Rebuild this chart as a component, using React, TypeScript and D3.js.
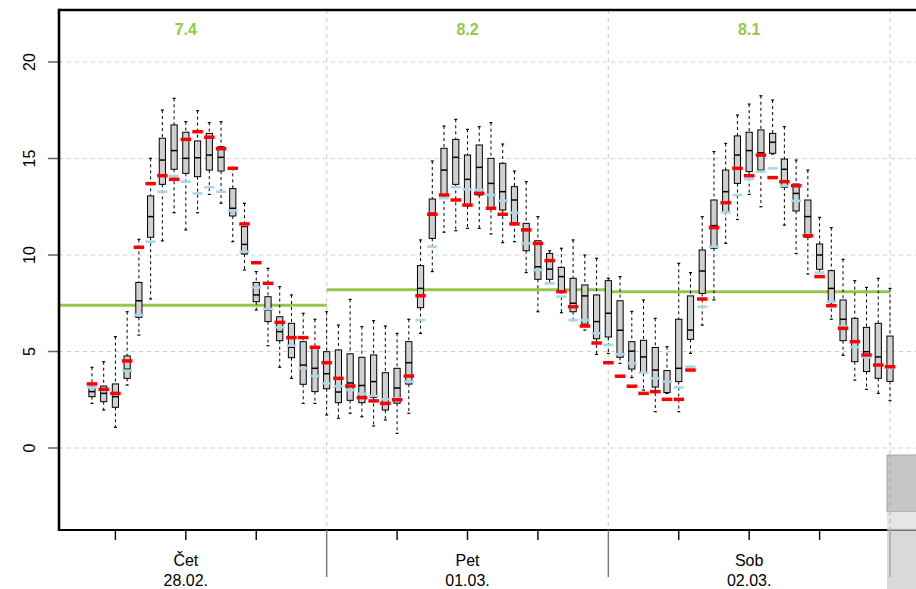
import React from 'react';
import * as d3 from 'd3';

const W = 916;
const H = 589;

// hour offsets from Thursday 28.02. 00:00 (one box per hour)
const hourOffsets = d3.range(4, 73);

const whiskerHigh = [4.18, 4.47, 5.77, 7.06, 10.81, 15.01, 17.51, 18.12, 16.91, 17.48, 16.86, 16.91, 14.54, 12.68, 9.14, 9.31, 8.36, 7.93, 6.98, 6.67,
  7.06, 6.37, 7.70, 6.29, 6.60, 6.32, 5.94, 6.67, 10.78, 14.87, 16.68, 17.03, 16.51, 16.65, 16.86, 15.75, 14.35, 13.80, 11.99, 10.22, 10.35, 10.78, 10.0, 9.83,
  8.79, 8.88, 7.08, 7.67, 6.72, 5.25, 9.57, 9.09, 11.99, 15.36, 15.78, 17.25, 17.82, 18.25, 18.03, 16.65, 14.92, 14.40, 11.95, 11.42, 9.78, 8.67, 8.32, 8.79,
  8.27];
const q3 = [3.18, 3.21, 3.32, 4.77, 8.58, 13.06, 16.05, 16.74, 16.36, 15.91, 16.30, 15.61, 13.44, 11.47, 8.58, 7.84, 6.80, 6.46, 5.51, 5.20,
  4.99, 5.08, 4.88, 4.70, 4.82, 3.90, 4.13, 5.51, 9.45, 12.90, 15.53, 15.99, 15.18, 15.70, 15.01, 14.75, 13.54, 11.64, 10.74, 10.08, 9.36, 8.79, 8.45, 7.93,
  8.67, 7.63, 5.51, 5.58, 5.21, 4.01, 6.67, 7.88, 10.26, 12.85, 14.40, 16.17, 16.36, 16.48, 16.30, 14.97, 13.68, 12.85, 10.57, 9.19, 7.67, 6.72, 6.25, 6.46,
  5.80];
const median = [2.92, 2.83, 2.66, 4.08, 7.63, 11.99, 14.92, 15.41, 15.01, 15.04, 15.18, 15.06, 12.42, 10.55, 7.93, 7.15, 6.03, 5.22, 4.30, 4.13,
  3.85, 2.90, 3.37, 3.24, 3.44, 2.55, 3.11, 4.42, 8.27, 12.16, 14.40, 15.06, 13.92, 14.54, 13.71, 13.28, 12.85, 11.30, 9.39, 9.27, 8.88, 7.50, 7.88, 6.55,
  6.98, 6.10, 5.02, 4.72, 4.04, 3.44, 4.13, 6.11, 9.17, 11.52, 13.28, 15.18, 15.41, 15.30, 15.84, 14.44, 13.19, 11.99, 10.0, 8.27, 6.67, 5.55, 4.99, 4.72,
  4.21];
const q1 = [2.66, 2.40, 2.11, 3.61, 6.77, 10.92, 13.66, 14.44, 14.23, 14.06, 14.40, 14.35, 12.02, 10.05, 7.58, 6.55, 5.56, 4.68, 3.30, 2.92,
  3.07, 2.35, 2.47, 2.35, 2.62, 1.97, 2.32, 3.31, 7.27, 10.86, 13.11, 13.66, 12.54, 13.11, 12.36, 12.33, 11.67, 10.22, 8.74, 8.74, 8.13, 7.06, 6.42, 5.66,
  5.75, 4.70, 4.09, 3.87, 3.16, 2.87, 3.44, 5.63, 8.01, 10.35, 12.25, 13.71, 14.32, 14.40, 15.27, 13.51, 12.28, 10.92, 9.26, 7.53, 5.56, 4.47, 3.96, 3.61,
  3.45];
const whiskerLow = [2.31, 1.97, 1.07, 3.26, 5.85, 7.72, 10.73, 12.19, 11.30, 12.19, 13.14, 12.68, 10.69, 9.22, 7.15, 5.30, 4.18, 3.61, 2.31, 2.31,
  1.71, 1.54, 1.80, 1.62, 1.14, 1.45, 0.76, 1.80, 5.94, 9.14, 11.18, 11.26, 11.38, 11.38, 11.09, 10.64, 10.69, 9.09, 7.06, 8.57, 7.01, 6.60, 6.11, 4.85,
  4.90, 4.39, 3.65, 3.00, 1.88, 2.83, 1.88, 4.90, 6.37, 7.67, 10.60, 11.84, 13.14, 12.50, 15.23, 11.55, 10.08, 9.02, 8.88, 6.67, 4.80, 3.52, 3.04, 2.83,
  2.45];
const redValues = [3.32, 3.04, 2.83, 4.51, 10.40, 13.70, 14.11, 13.92, 15.99, 16.39, 16.10, 15.51, 14.49, 11.61, 9.60, 8.53, 6.51, 5.72, 5.72, 5.22,
  4.42, 3.61, 3.21, 2.61, 2.44, 2.31, 2.50, 3.73, 7.89, 12.11, 13.11, 12.85, 12.59, 13.19, 12.42, 12.11, 11.61, 11.30, 10.60, 9.71, 8.10, 7.32, 6.32, 5.44,
  4.42, 3.72, 3.20, 2.83, 2.92, 2.52, 2.52, 4.04, 7.72, 11.42, 12.71, 14.49, 14.11, 15.18, 14.01, 13.80, 13.59, 11.00, 8.88, 7.37, 6.20, 5.51, 4.82, 4.30,
  4.21];
const blueValues = [3.14, 3.00, 2.80, 4.01, 6.89, 10.69, 13.28, 14.09, 13.80, 13.19, 13.51, 13.28, 12.30, 10.17, 8.32, 7.20, 6.25, 5.30, 4.13, 3.73,
  3.35, 3.20, 3.00, 2.81, 2.70, 2.53, 2.57, 3.44, 6.63, 10.43, 12.94, 13.51, 13.40, 13.37, 13.11, 12.81, 12.19, 10.60, 9.22, 8.53, 7.84, 6.63, 6.63, 5.94,
  5.34, 4.86, 4.39, 3.90, 3.61, 3.44, 3.14, 4.21, 7.32, 10.43, 12.21, 13.11, 13.94, 14.32, 14.49, 13.58, 12.81, 11.04, 9.09, 7.58, 6.30, 5.23, 4.70, 4.30,
  4.15];

const dayNames = ['Čet', 'Pet', 'Sob'];
const dayDates = ['28.02.', '01.03.', '02.03.'];
const dayMeans = [7.4, 8.2, 8.1];
const yTicks = [0, 5, 10, 15, 20];
const xTickHours = [6, 12, 18, 24, 30, 36, 42, 48, 54, 60, 66, 72];

const FONT = '"Liberation Sans", Arial, Helvetica, sans-serif';
const GREEN = '#93c84c';

export default function App() {
  const plotLeft = 59;
  const plotTop = 10;
  const plotBottom = 530;
  const plotRight = W + 5;

  const x = d3.scaleLinear().domain([0, 72]).range([45, 890]);
  const y = d3.scaleLinear().domain([0, 20]).range([448, 62]);

  const boxW = 6.2;
  const capW = 3;
  const redW = 10.5;
  const blueW = 10;

  return (
    <svg width={W} height={H} style={{ position: 'absolute', left: 0, top: 0, display: 'block', background: '#fff' }}
      fontFamily={FONT}>
      <defs>
        <clipPath id="plotClip">
          <rect x={plotLeft} y={plotTop} width={plotRight - plotLeft} height={plotBottom - plotTop} />
        </clipPath>
      </defs>

      {/* horizontal grid */}
      {yTicks.map(t => (
        <line key={'hg' + t} x1={plotLeft} x2={plotRight} y1={y(t)} y2={y(t)}
          stroke="#cfcfcf" strokeWidth={1.2} strokeDasharray="4,4" />
      ))}
      {/* vertical grid at day boundaries */}
      {[24, 48, 72].map(h => (
        <line key={'vg' + h} x1={x(h)} x2={x(h)} y1={plotTop} y2={plotBottom}
          stroke="#cfcfcf" strokeWidth={1.2} strokeDasharray="4,4" />
      ))}

      {/* day mean lines */}
      <g clipPath="url(#plotClip)">
        {dayMeans.map((m, i) => (
          <line key={'dm' + i} x1={Math.max(plotLeft, x(i * 24))} x2={x((i + 1) * 24)}
            y1={y(m)} y2={y(m)} stroke={GREEN} strokeWidth={3} />
        ))}
      </g>
      {dayMeans.map((m, i) => (
        <text key={'dml' + i} x={x(i * 24 + 12)} y={35} textAnchor="middle" fontSize={16}
          fontWeight="bold" fill={GREEN}>{m.toFixed(1)}</text>
      ))}

      {/* boxplots */}
      <g clipPath="url(#plotClip)">
        {hourOffsets.map((h, i) => {
          const cx = x(h);
          return (
            <g key={'b' + i}>
              <line x1={cx} x2={cx} y1={y(whiskerHigh[i])} y2={y(q3[i])} stroke="#000" strokeWidth={1} strokeDasharray="3,3" />
              <line x1={cx} x2={cx} y1={y(q1[i])} y2={y(whiskerLow[i])} stroke="#000" strokeWidth={1} strokeDasharray="3,3" />
              <line x1={cx - capW / 2} x2={cx + capW / 2} y1={y(whiskerHigh[i])} y2={y(whiskerHigh[i])} stroke="#000" strokeWidth={1.2} />
              <line x1={cx - capW / 2} x2={cx + capW / 2} y1={y(whiskerLow[i])} y2={y(whiskerLow[i])} stroke="#000" strokeWidth={1.2} />
              <rect x={cx - boxW / 2} y={y(q3[i])} width={boxW} height={y(q1[i]) - y(q3[i])}
                fill="#d0d0d0" stroke="#000" strokeWidth={1} />
              <line x1={cx - boxW / 2} x2={cx + boxW / 2} y1={y(median[i])} y2={y(median[i])} stroke="#000" strokeWidth={1.5} />
            </g>
          );
        })}
        {hourOffsets.map((h, i) => (
          <line key={'bl' + i} x1={x(h) - blueW / 2} x2={x(h) + blueW / 2} y1={y(blueValues[i])} y2={y(blueValues[i])}
            stroke="#a9d7e8" strokeWidth={2.6} />
        ))}
        {hourOffsets.map((h, i) => (
          <line key={'rd' + i} x1={x(h) - redW / 2} x2={x(h) + redW / 2} y1={y(redValues[i])} y2={y(redValues[i])}
            stroke="#ff0000" strokeWidth={3.5} />
        ))}
      </g>

      {/* y axis ticks and labels */}
      {yTicks.map(t => (
        <g key={'yt' + t}>
          <line x1={48} x2={plotLeft} y1={y(t)} y2={y(t)} stroke="#666" strokeWidth={1.5} />
          <text transform={`translate(35,${y(t)}) rotate(-90)`} textAnchor="middle" fontSize={16} fill="#000">{t}</text>
        </g>
      ))}

      {/* frame */}
      <line x1={plotLeft} x2={plotRight} y1={plotTop} y2={plotTop} stroke="#000" strokeWidth={2.6} />
      <line x1={plotLeft} x2={plotLeft} y1={plotTop - 1.3} y2={plotBottom + 1} stroke="#000" strokeWidth={2.6} />
      <line x1={plotLeft} x2={plotRight} y1={plotBottom} y2={plotBottom} stroke="#000" strokeWidth={1.8} />

      {/* x ticks */}
      {xTickHours.map(h => {
        const isDay = h % 24 === 0;
        return (
          <line key={'xt' + h} x1={x(h)} x2={x(h)} y1={plotBottom} y2={isDay ? 577 : 540}
            stroke={isDay ? '#777' : '#000'} strokeWidth={1.4} />
        );
      })}
      {dayNames.map((d, i) => (
        <g key={'dl' + i}>
          <text x={x(i * 24 + 12)} y={566} textAnchor="middle" fontSize={16} fill="#000">{d}</text>
          <text x={x(i * 24 + 12)} y={586} textAnchor="middle" fontSize={16} fill="#000">{dayDates[i]}</text>
        </g>
      ))}

      {/* partially visible overlay panel at right edge */}
      <rect x={887} y={455} width={40} height={57} fill="#c6c6c6" stroke="#a4a4a4" strokeWidth={1} />
      <rect x={887} y={512} width={40} height={17} fill="#e6e6e6" />
      <line x1={887} x2={W} y1={529.5} y2={529.5} stroke="#a8a8a8" strokeWidth={1.2} />
      <rect x={887} y={530.5} width={40} height={60} fill="#d9d9d9" />
      <line x1={x(72)} x2={x(72)} y1={455} y2={530} stroke="#b0b0b0" strokeWidth={1.2} strokeDasharray="4,4" />
      <line x1={x(72)} x2={x(72)} y1={530} y2={577} stroke="#9a9a9a" strokeWidth={1.2} />
    </svg>
  );
}
